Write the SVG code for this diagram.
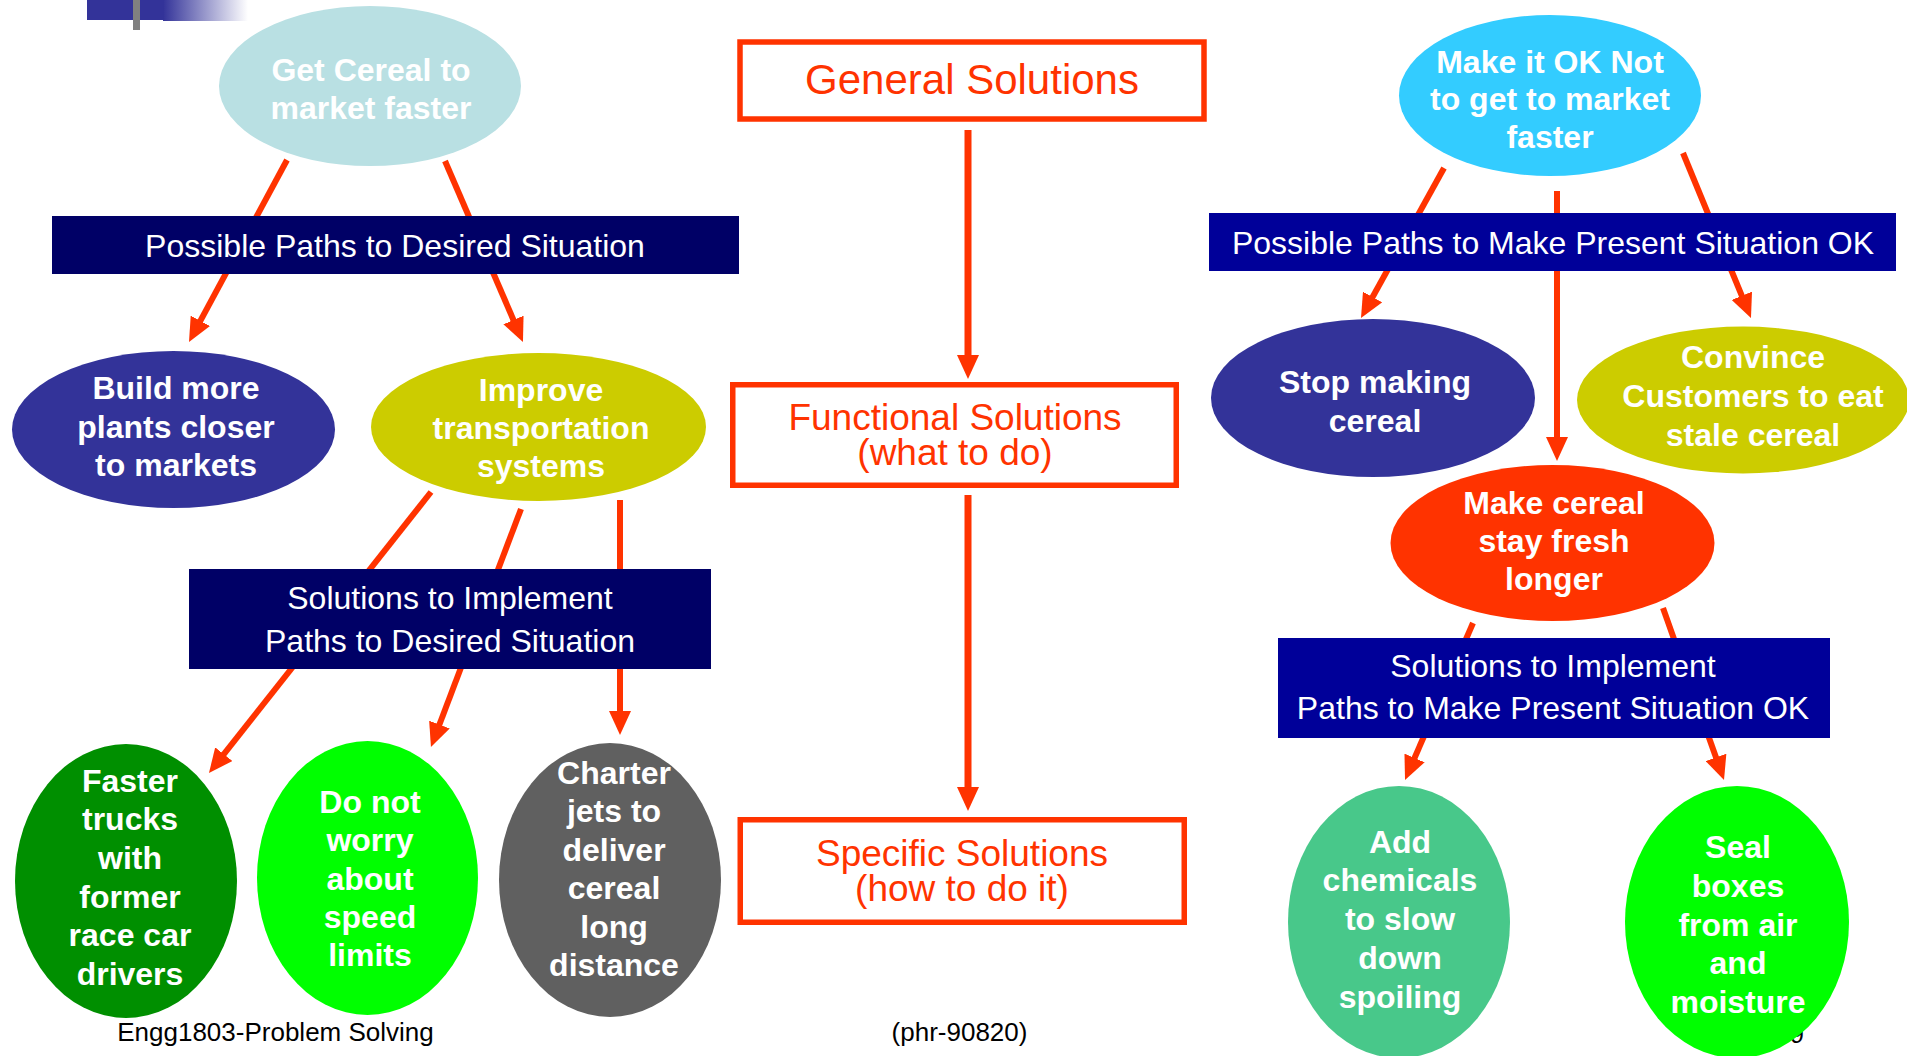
<svg xmlns="http://www.w3.org/2000/svg" width="1907" height="1056" viewBox="0 0 1907 1056">
<style>
text{font-family:"Liberation Sans",Arial,sans-serif}
.n{font-weight:bold;font-size:32px;fill:#fff;text-anchor:middle}
.b{font-size:32px;fill:#fff;text-anchor:middle}
.r{fill:#FF3300;text-anchor:middle}
.box{fill:#fff;stroke:#FF3300;stroke-width:5.5}
.c{stroke:#FF3300;stroke-width:6;fill:none;marker-end:url(#ah)}
.c7{stroke:#FF3300;stroke-width:7;fill:none;marker-end:url(#ah)}
.f{font-size:26px;fill:#000;text-anchor:middle}
</style>
<defs>
<marker id="ah" markerUnits="userSpaceOnUse" viewBox="0 0 24 22" refX="12" refY="11" markerWidth="24" markerHeight="22" orient="auto">
<path d="M0,0 L24,11 L0,22 Z" fill="#FF3300"/>
</marker>
<linearGradient id="fade" x1="0" y1="0" x2="1" y2="0">
<stop offset="0" stop-color="#333399"/>
<stop offset="1" stop-color="#333399" stop-opacity="0"/>
</linearGradient>
</defs>
<rect width="1907" height="1056" fill="#fff"/>
<g id="decor">
<rect x="87" y="0" width="77" height="20" fill="#333399"/>
<rect x="163" y="0" width="85" height="21" fill="url(#fade)"/>
<rect x="133" y="0" width="7" height="30" fill="#808080"/>
</g>
<g id="footer">
<text class="f" x="275.5" y="1041">Engg1803-Problem Solving</text>
<text class="f" x="959.5" y="1041">(phr-90820)</text>
<text x="1790" y="1043" font-size="25" fill="#000">9</text>
</g>
<g id="connectors">
<line class="c" x1="287" y1="160" x2="194.7" y2="331.4"/>
<line class="c" x1="445" y1="161" x2="518.2" y2="331"/>
<line class="c" x1="431" y1="492" x2="216.4" y2="763.6"/>
<line class="c" x1="521" y1="509" x2="435.2" y2="735.8"/>
<line class="c" x1="620" y1="500" x2="620" y2="723"/>
<line class="c7" x1="968" y1="130" x2="968" y2="367"/>
<line class="c7" x1="968" y1="495" x2="968" y2="799"/>
<line class="c" x1="1444" y1="168" x2="1366.8" y2="307.5"/>
<line class="c" x1="1557" y1="191" x2="1557" y2="449"/>
<line class="c" x1="1683" y1="153" x2="1746.4" y2="306.9"/>
<line class="c" x1="1473" y1="623" x2="1409.8" y2="769"/>
<line class="c" x1="1663" y1="608" x2="1720" y2="768.7"/>
</g>
<g id="get-cereal">
<ellipse cx="370" cy="86" rx="151" ry="80" fill="#B9E0E3"/>
<text class="n" x="371" y="81">Get Cereal to</text>
<text class="n" x="371" y="119">market faster</text>
</g>
<g id="paths-desired">
<rect x="52" y="216" width="687" height="58" fill="#000066"/>
<text class="b" x="395" y="257">Possible Paths to Desired Situation</text>
</g>
<g id="build-plants">
<ellipse cx="173.5" cy="429.5" rx="161.5" ry="78.5" fill="#333399"/>
<text class="n" x="176" y="399">Build more</text>
<text class="n" x="176" y="438">plants closer</text>
<text class="n" x="176" y="476">to markets</text>
</g>
<g id="improve-transport">
<ellipse cx="538.5" cy="427" rx="167.5" ry="74" fill="#CCCC00"/>
<text class="n" x="541" y="401">Improve</text>
<text class="n" x="541" y="439">transportation</text>
<text class="n" x="541" y="477">systems</text>
</g>
<g id="solutions-desired">
<rect x="189" y="569" width="522" height="100" fill="#000066"/>
<text class="b" x="450" y="609">Solutions to Implement</text>
<text class="b" x="450" y="652">Paths to Desired Situation</text>
</g>
<g id="faster-trucks">
<ellipse cx="126" cy="881" rx="111" ry="137" fill="#008F00"/>
<text class="n" x="130" y="792">Faster</text>
<text class="n" x="130" y="830">trucks</text>
<text class="n" x="130" y="869">with</text>
<text class="n" x="130" y="908">former</text>
<text class="n" x="130" y="946">race car</text>
<text class="n" x="130" y="985">drivers</text>
</g>
<g id="do-not-worry">
<ellipse cx="367.5" cy="878" rx="110.5" ry="137" fill="#00FF00"/>
<text class="n" x="370" y="813">Do not</text>
<text class="n" x="370" y="851">worry</text>
<text class="n" x="370" y="890">about</text>
<text class="n" x="370" y="928">speed</text>
<text class="n" x="370" y="966">limits</text>
</g>
<g id="charter-jets">
<ellipse cx="610" cy="880" rx="111" ry="137" fill="#606060"/>
<text class="n" x="614" y="784">Charter</text>
<text class="n" x="614" y="822">jets to</text>
<text class="n" x="614" y="861">deliver</text>
<text class="n" x="614" y="899">cereal</text>
<text class="n" x="614" y="938">long</text>
<text class="n" x="614" y="976">distance</text>
</g>
<g id="general-solutions">
<rect class="box" x="740" y="42" width="464" height="77"/>
<text class="r" x="972" y="94" font-size="42">General Solutions</text>
</g>
<g id="functional-solutions">
<rect class="box" x="732.75" y="384.75" width="443.5" height="100.5"/>
<text class="r" x="955" y="430" font-size="37">Functional Solutions</text>
<text class="r" x="955" y="465" font-size="37">(what to do)</text>
</g>
<g id="specific-solutions">
<rect class="box" x="740.25" y="819.75" width="444" height="102.5"/>
<text class="r" x="962" y="866" font-size="37">Specific Solutions</text>
<text class="r" x="962" y="901" font-size="37">(how to do it)</text>
</g>
<g id="make-ok">
<ellipse cx="1550" cy="95.5" rx="151" ry="80.5" fill="#33CCFF"/>
<text class="n" x="1550" y="73">Make it OK Not</text>
<text class="n" x="1550" y="110">to get to market</text>
<text class="n" x="1550" y="148">faster</text>
</g>
<g id="paths-ok">
<rect x="1209" y="213" width="687" height="58" fill="#000099"/>
<text class="b" x="1553" y="254">Possible Paths to Make Present Situation OK</text>
</g>
<g id="stop-making">
<ellipse cx="1373" cy="398" rx="162" ry="79" fill="#333399"/>
<text class="n" x="1375" y="393">Stop making</text>
<text class="n" x="1375" y="432">cereal</text>
</g>
<g id="convince">
<ellipse cx="1743" cy="400" rx="166" ry="73.5" fill="#CCCC00"/>
<text class="n" x="1753" y="368">Convince</text>
<text class="n" x="1753" y="407">Customers to eat</text>
<text class="n" x="1753" y="446">stale cereal</text>
</g>
<g id="stay-fresh">
<ellipse cx="1552.5" cy="543" rx="162" ry="78" fill="#FF3300"/>
<text class="n" x="1554" y="514">Make cereal</text>
<text class="n" x="1554" y="552">stay fresh</text>
<text class="n" x="1554" y="590">longer</text>
</g>
<g id="solutions-ok">
<rect x="1278" y="638" width="552" height="100" fill="#000099"/>
<text class="b" x="1553" y="677">Solutions to Implement</text>
<text class="b" x="1553" y="719">Paths to Make Present Situation OK</text>
</g>
<g id="add-chemicals">
<ellipse cx="1399" cy="922" rx="111" ry="136" fill="#48C88A"/>
<text class="n" x="1400" y="853">Add</text>
<text class="n" x="1400" y="891">chemicals</text>
<text class="n" x="1400" y="930">to slow</text>
<text class="n" x="1400" y="969">down</text>
<text class="n" x="1400" y="1008">spoiling</text>
</g>
<g id="seal-boxes">
<ellipse cx="1737" cy="922" rx="112" ry="136" fill="#00FF00"/>
<text class="n" x="1738" y="858">Seal</text>
<text class="n" x="1738" y="897">boxes</text>
<text class="n" x="1738" y="936">from air</text>
<text class="n" x="1738" y="974">and</text>
<text class="n" x="1738" y="1013">moisture</text>
</g>
</svg>
